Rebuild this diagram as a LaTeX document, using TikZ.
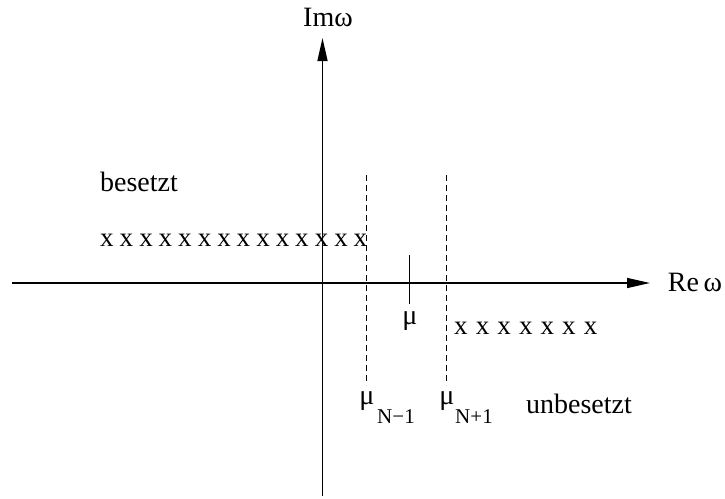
\documentclass[tikz,border=0pt]{standalone}
\usepackage{fontspec}
\setmainfont{Liberation Serif}
\usetikzlibrary{arrows.meta}
\begin{document}
\begin{tikzpicture}[x=0.5pt,y=-0.5pt,
  lbl/.style={inner sep=0pt,font=\fontsize{14}{16}\selectfont},
  sub/.style={inner sep=0pt,font=\fontsize{10.5}{12}\selectfont},
  xm/.style={inner sep=0pt,font=\fontsize{13.5}{16}\selectfont},
  axis/.style={line width=0.75pt,-{Triangle[length=11.5pt,width=5pt]}},
  dline/.style={line width=0.5pt,dash pattern=on 3pt off 2pt}]
\useasboundingbox (0,0) rectangle (725,499);
% axes
\coordinate (vb) at (322.5,496);
\coordinate (vt) at (322.5,38);
\coordinate (hl) at (12,283);
\coordinate (hr) at (650,283);
\draw[axis] (vb) -- (vt);
\draw[axis] (hl) -- (hr);
\node[lbl] (im) at (328,17) {Imω};
\node[lbl] (re) at (695,282) {Re\,ω};
% dashed lines
\coordinate (d1t) at (366.5,175);
\coordinate (d1b) at (366.5,385);
\coordinate (d2t) at (446,175);
\coordinate (d2b) at (446,385);
\draw[dline] (d1t) -- (d1b);
\draw[dline] (d2t) -- (d2b);
% mu tick
\coordinate (mt) at (409.5,255);
\coordinate (mb) at (409.5,304);
\draw[line width=0.6pt] (mt) -- (mb);
\node[lbl] (mu) at (410,321) {μ};
% labels
\node[lbl] (bes) at (139,182) {besetzt};
\node[lbl] (unb) at (579,404) {unbesetzt};
\node[lbl] (m1) at (367,401) {μ};
\node[sub] (s1) at (396,417) {N−1};
\node[lbl] (m2) at (447,401) {μ};
\node[sub] (s2) at (474,417) {N+1};
% x marks
\foreach \i in {0,...,13} {
  \node[xm] (xa\i) at ({107+19.5*\i},240) {x};
}
\foreach \i in {0,...,6} {
  \node[xm] (xb\i) at ({461+21.6*\i},328) {x};
}
\end{tikzpicture}
\end{document}
